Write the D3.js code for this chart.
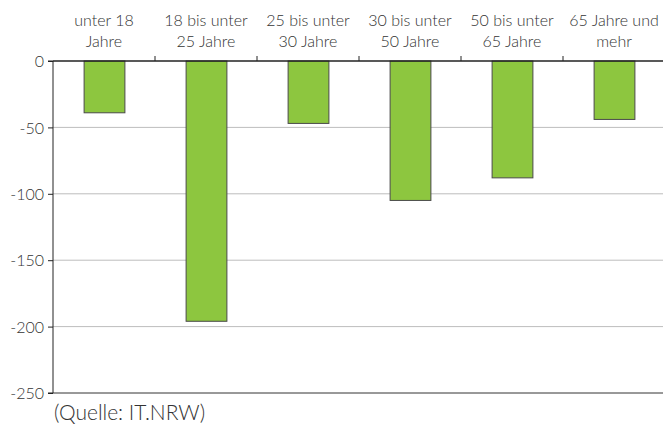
<!DOCTYPE html>
<html><head><meta charset="utf-8">
<script src="https://cdn.jsdelivr.net/npm/d3@7"></script>
<style>body{margin:0;background:#fff}svg{display:block;font-family:Lato,"Open Sans",sans-serif;font-weight:300}</style>
</head><body><svg id="c" width="663" height="426"></svg>
<script>
const categories = [["unter 18","Jahre"],["18 bis unter","25 Jahre"],["25 bis unter","30 Jahre"],["30 bis unter","50 Jahre"],["50 bis unter","65 Jahre"],["65 Jahre und","mehr"]];
const values = [-39, -196, -47, -105, -88, -44];
const yTicks = [0, -50, -100, -150, -200, -250];
const source = "(Quelle: IT.NRW)";

const svg = d3.select("#c");
const L = 53, R = 665, T = 61, B = 393;
const x = d3.scaleBand().domain(d3.range(categories.length)).range([L, R]).paddingInner(0.6).paddingOuter(0.3);
const xb = d3.scaleBand().domain(d3.range(categories.length)).range([L, R]);
const y = d3.scaleLinear().domain([0, -250]).range([T, B]);

// gridlines
svg.append("g").selectAll("line").data(yTicks.filter(d => d !== 0 && d !== -250)).join("line")
  .attr("x1", L).attr("x2", 663).attr("y1", d => y(d)).attr("y2", d => y(d))
  .attr("stroke", "#bdbdbd").attr("stroke-width", 1);
svg.append("line").attr("x1", L).attr("x2", 663).attr("y1", y(-250)).attr("y2", y(-250)).attr("stroke", "#333");

// bars
svg.append("g").selectAll("rect").data(values).join("rect")
  .attr("x", (d, i) => x(i) + 0.5).attr("width", x.bandwidth())
  .attr("y", y(0)).attr("height", d => y(d) - y(0))
  .attr("fill", "#8dc63f").attr("stroke", "#4a4a4a").attr("stroke-width", 1);

// y axis
const ya = svg.append("g").attr("transform", `translate(${L},0)`)
  .call(d3.axisLeft(y).tickValues(yTicks).tickSize(5).tickPadding(4).tickFormat(d => String(d)));
ya.select(".domain").attr("stroke", "#222").attr("d", `M-5,${T}H0V${B}H-5`);
ya.selectAll(".tick line").attr("stroke", "#222");
ya.selectAll(".tick text").attr("font-size", 16).attr("fill", "#333").attr("font-family", "Lato,sans-serif").attr("font-weight", 300).attr("dy", "0.35em");

// x axis at 0 with upward ticks between bands
svg.append("line").attr("x1", L).attr("x2", 663).attr("y1", y(0)).attr("y2", y(0)).attr("stroke", "#222").attr("stroke-width", 1.5);
svg.append("g").selectAll("line").data(d3.range(1, categories.length)).join("line")
  .attr("x1", i => xb(i)).attr("x2", i => xb(i)).attr("y1", y(0)).attr("y2", y(0) - 5).attr("stroke", "#222");

// category labels
const lab = svg.append("g").selectAll("text").data(categories).join("text")
  .attr("x", (d, i) => xb(i) + xb.bandwidth() / 2).attr("y", 26)
  .attr("text-anchor", "middle").attr("font-size", 16).attr("fill", "#333");
lab.selectAll("tspan").data(d => d).join("tspan")
  .attr("x", function() { return this.parentNode.getAttribute("x"); })
  .attr("dy", (d, i) => i === 0 ? 0 : 21).text(d => d);

svg.append("text").attr("x", 54).attr("y", 420).attr("font-size", 21).attr("fill", "#333").text(source);
</script></body></html>
